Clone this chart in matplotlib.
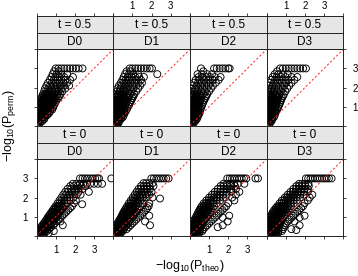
import matplotlib
matplotlib.use('Agg')
import matplotlib.pyplot as plt

plt.rcParams['font.family'] = ['Liberation Sans', 'DejaVu Sans']
plt.rcParams['mathtext.fontset'] = 'custom'
plt.rcParams['mathtext.rm'] = 'Liberation Sans'
plt.rcParams['mathtext.it'] = 'Liberation Sans:italic'
plt.rcParams['mathtext.bf'] = 'Liberation Sans:bold'

# ---------------- data ----------------
t_levels = ['t = 0.5', 't = 0']
d_levels = ['D0', 'D1', 'D2', 'D3']
tick_vals = [0, 1, 2, 3, 4]
tick_labels = ['', '1', '2', '3', '']
x_label = r'$-\mathrm{log}_{10}(\mathrm{P}_{\mathrm{theo}})$'
y_label = r'$-\mathrm{log}_{10}(\mathrm{P}_{\mathrm{perm}})$'

# each entry: (-log10 P_perm, [-log10 P_theo values at that level])
t05_D0 = [
    (0.05, [0.03, 0.1]),
    (0.15, [0.02, 0.1, 0.18]),
    (0.25, [0.02, 0.1, 0.2, 0.3]),
    (0.35, [0.03, 0.12, 0.22, 0.32, 0.4]),
    (0.45, [0.04, 0.14, 0.24, 0.34, 0.44]),
    (0.55, [0.05, 0.15, 0.25, 0.35, 0.45, 0.55]),
    (0.65, [0.06, 0.16, 0.26, 0.36, 0.46, 0.56, 0.65]),
    (0.75, [0.08, 0.18, 0.28, 0.38, 0.48, 0.58, 0.7]),
    (0.85, [0.1, 0.2, 0.3, 0.4, 0.5, 0.6, 0.72, 0.82]),
    (0.95, [0.12, 0.22, 0.32, 0.42, 0.52, 0.62, 0.74, 0.86]),
    (1.05, [0.14, 0.24, 0.34, 0.44, 0.54, 0.64, 0.76, 0.9]),
    (1.15, [0.17, 0.27, 0.37, 0.47, 0.57, 0.68, 0.8, 0.95]),
    (1.25, [0.2, 0.3, 0.4, 0.5, 0.6, 0.72, 0.85, 1.0]),
    (1.35, [0.23, 0.33, 0.43, 0.53, 0.63, 0.76, 0.9, 1.05]),
    (1.45, [0.26, 0.36, 0.46, 0.56, 0.68, 0.8, 0.95, 1.12]),
    (1.55, [0.3, 0.4, 0.5, 0.6, 0.72, 0.85, 1.0, 1.2]),
    (1.65, [0.34, 0.45, 0.56, 0.68, 0.8, 0.95, 1.1, 1.25]),
    (1.8, [0.4, 0.55, 0.7, 0.85, 1.0, 1.15, 1.35]),
    (1.95, [0.45, 0.62, 0.78, 0.95, 1.1, 1.3, 1.5]),
    (2.1, [0.52, 0.7, 0.88, 1.05, 1.25, 1.45, 1.7]),
    (2.25, [0.6, 0.8, 1.0, 1.2, 1.4, 1.6]),
    (2.4, [0.7, 0.9, 1.1, 1.3, 1.5, 1.75]),
    (2.55, [0.78, 0.98, 1.2, 1.45, 1.9]),
    (2.7, [0.85, 1.05, 1.3, 1.6]),
    (2.85, [0.92, 1.15]),
    (3.0, [1.0, 1.15, 1.3, 1.45, 1.6, 1.75, 1.9, 2.05, 2.2, 2.4]),
]
t05_D1 = [
    (0.05, [0.03, 0.12, 0.2]),
    (0.15, [0.02, 0.1, 0.2, 0.28]),
    (0.25, [0.02, 0.1, 0.2, 0.3]),
    (0.35, [0.03, 0.12, 0.22, 0.32, 0.4]),
    (0.45, [0.03, 0.12, 0.22, 0.32, 0.42, 0.5]),
    (0.55, [0.04, 0.14, 0.24, 0.34, 0.44, 0.55]),
    (0.65, [0.05, 0.15, 0.25, 0.35, 0.45, 0.58]),
    (0.75, [0.06, 0.16, 0.26, 0.36, 0.46, 0.56, 0.65]),
    (0.85, [0.07, 0.17, 0.27, 0.37, 0.47, 0.57, 0.7]),
    (0.95, [0.08, 0.18, 0.28, 0.38, 0.48, 0.6, 0.75]),
    (1.05, [0.09, 0.19, 0.29, 0.39, 0.5, 0.62, 0.8]),
    (1.15, [0.1, 0.2, 0.3, 0.4, 0.52, 0.65, 0.85]),
    (1.25, [0.11, 0.21, 0.31, 0.42, 0.54, 0.68, 0.9]),
    (1.35, [0.12, 0.22, 0.33, 0.44, 0.56, 0.72, 0.95]),
    (1.45, [0.13, 0.24, 0.35, 0.46, 0.6, 0.78, 1.0]),
    (1.55, [0.14, 0.26, 0.38, 0.5, 0.65, 0.82, 1.05]),
    (1.65, [0.16, 0.28, 0.4, 0.54, 0.7, 0.88, 1.1]),
    (1.8, [0.2, 0.33, 0.47, 0.62, 0.78, 0.95, 1.2]),
    (1.95, [0.22, 0.38, 0.54, 0.7, 0.88, 1.05, 1.3]),
    (2.1, [0.3, 0.45, 0.62, 0.8, 1.0, 1.2, 1.4]),
    (2.25, [0.4, 0.55, 0.72, 0.9, 1.1, 1.3, 1.5]),
    (2.4, [0.48, 0.65, 0.82, 1.0, 1.2, 1.45]),
    (2.55, [0.55, 0.75, 0.95, 1.15, 1.35, 1.6]),
    (2.7, [0.62, 0.82, 1.05, 1.3, 2.3]),
    (2.85, [0.7, 0.9]),
    (3.0, [0.86, 1.0, 1.15, 1.3, 1.45, 1.6, 1.75, 1.9, 2.02]),
]
t05_D2 = [
    (0.05, [0.03, 0.12]),
    (0.15, [0.02, 0.1, 0.2]),
    (0.25, [0.02, 0.1, 0.2, 0.28]),
    (0.35, [0.02, 0.1, 0.2, 0.3, 0.36]),
    (0.45, [0.02, 0.1, 0.2, 0.3, 0.4]),
    (0.55, [0.03, 0.12, 0.22, 0.32, 0.44]),
    (0.65, [0.03, 0.12, 0.22, 0.32, 0.42, 0.5]),
    (0.75, [0.03, 0.12, 0.22, 0.32, 0.42, 0.52]),
    (0.85, [0.04, 0.13, 0.23, 0.33, 0.43, 0.55]),
    (0.95, [0.04, 0.13, 0.23, 0.33, 0.44, 0.58]),
    (1.05, [0.04, 0.14, 0.24, 0.34, 0.46, 0.62]),
    (1.15, [0.05, 0.15, 0.25, 0.36, 0.48, 0.66]),
    (1.25, [0.05, 0.15, 0.26, 0.38, 0.5, 0.7]),
    (1.35, [0.05, 0.16, 0.27, 0.4, 0.54, 0.75]),
    (1.45, [0.06, 0.17, 0.29, 0.42, 0.58, 0.8]),
    (1.55, [0.06, 0.18, 0.31, 0.45, 0.62, 0.85]),
    (1.65, [0.07, 0.2, 0.34, 0.5, 0.68, 0.9]),
    (1.8, [0.08, 0.24, 0.4, 0.58, 0.78, 1.0]),
    (1.95, [0.1, 0.28, 0.46, 0.66, 0.88, 1.1]),
    (2.1, [0.15, 0.35, 0.55, 0.75, 0.98, 1.2]),
    (2.25, [0.22, 0.42, 0.62, 0.85, 1.08, 1.35]),
    (2.4, [0.3, 0.5, 0.72, 0.95, 1.2, 1.5]),
    (2.55, [0.45, 0.65, 0.85, 1.05, 1.3, 1.6]),
    (2.7, [0.4, 0.62, 0.9, 1.15]),
    (2.85, [0.7]),
    (3.0, [0.58, 1.26, 1.4, 1.55, 1.7, 1.85, 2.0, 2.07]),
]
t05_D3 = [
    (0.05, [0.03, 0.12]),
    (0.15, [0.02, 0.1, 0.18]),
    (0.25, [0.02, 0.1, 0.2, 0.26]),
    (0.35, [0.02, 0.1, 0.2, 0.3]),
    (0.45, [0.02, 0.1, 0.2, 0.3, 0.38]),
    (0.55, [0.02, 0.11, 0.21, 0.31, 0.42]),
    (0.65, [0.03, 0.12, 0.22, 0.32, 0.45]),
    (0.75, [0.03, 0.12, 0.22, 0.32, 0.42, 0.5]),
    (0.85, [0.03, 0.12, 0.22, 0.33, 0.45, 0.55]),
    (0.95, [0.04, 0.13, 0.23, 0.34, 0.46, 0.6]),
    (1.05, [0.04, 0.13, 0.24, 0.35, 0.48, 0.64]),
    (1.15, [0.04, 0.14, 0.25, 0.37, 0.5, 0.68]),
    (1.25, [0.05, 0.15, 0.26, 0.38, 0.52, 0.72]),
    (1.35, [0.05, 0.15, 0.27, 0.4, 0.55, 0.76]),
    (1.45, [0.05, 0.16, 0.28, 0.42, 0.58, 0.8]),
    (1.55, [0.06, 0.17, 0.3, 0.45, 0.62, 0.85]),
    (1.65, [0.06, 0.18, 0.32, 0.48, 0.66, 0.9]),
    (1.8, [0.08, 0.22, 0.37, 0.54, 0.74, 0.98]),
    (1.95, [0.1, 0.26, 0.43, 0.62, 0.84, 1.08]),
    (2.1, [0.14, 0.32, 0.5, 0.7, 0.92, 1.18]),
    (2.25, [0.18, 0.38, 0.58, 0.8, 1.02, 1.3]),
    (2.4, [0.24, 0.44, 0.66, 0.9, 1.14, 1.45]),
    (2.55, [0.32, 0.52, 0.75, 1.0, 1.3, 1.6]),
    (2.7, [0.42, 0.62, 0.85, 1.1]),
    (2.85, [0.55]),
    (3.0, [0.7, 0.85, 1.0, 1.15, 1.3, 1.45, 1.6, 1.75, 1.9, 2.05]),
]
t0_D0 = [
    (0.05, [0.02, 0.1, 0.2, 0.3]),
    (0.15, [0.03, 0.12, 0.22, 0.32, 0.42, 0.64]),
    (0.25, [0.06, 0.15, 0.25, 0.35, 0.45, 0.55, 0.9]),
    (0.35, [0.14, 0.23, 0.32, 0.42, 0.52, 0.65]),
    (0.45, [0.22, 0.31, 0.4, 0.5, 0.6, 0.75]),
    (0.55, [0.3, 0.39, 0.48, 0.58, 0.68, 0.88, 1.37]),
    (0.65, [0.38, 0.47, 0.56, 0.66, 0.78, 0.95]),
    (0.75, [0.45, 0.54, 0.63, 0.73, 0.85, 1.05, 1.25]),
    (0.85, [0.52, 0.61, 0.7, 0.8, 0.92, 1.15]),
    (0.95, [0.58, 0.67, 0.77, 0.87, 1.0, 1.25]),
    (1.05, [0.65, 0.74, 0.84, 0.95, 1.08, 1.35]),
    (1.15, [0.72, 0.81, 0.91, 1.02, 1.15, 1.45]),
    (1.25, [0.79, 0.88, 0.98, 1.09, 1.22, 1.55]),
    (1.35, [0.86, 0.95, 1.05, 1.16, 1.3, 1.65]),
    (1.45, [0.93, 1.02, 1.12, 1.23, 1.38, 1.75]),
    (1.55, [1.0, 1.1, 1.2, 1.31, 1.46, 1.85]),
    (1.65, [2.38]),
    (1.7, [1.1, 1.2, 1.32, 1.45, 1.6, 1.95]),
    (1.85, [1.2, 1.32, 1.45, 1.6, 1.78, 2.05]),
    (2.0, [1.3, 1.45, 1.6, 1.75, 1.92]),
    (2.15, [1.4, 1.55, 1.72, 1.9, 2.1, 2.3]),
    (2.3, [1.5, 1.66, 1.84, 2.02, 2.2, 2.73]),
    (2.45, [1.62, 1.8, 1.98, 2.18, 2.4]),
    (2.6, [1.76, 1.95, 2.15, 2.35, 2.55]),
    (2.72, [1.9, 2.08, 2.26, 2.44, 2.62, 2.8, 3.0, 3.2, 3.42]),
    (3.0, [2.27, 2.4, 2.53, 2.66, 2.8, 2.93, 3.06, 3.18, 3.26, 3.9]),
]
t0_D1 = [
    (0.05, [0.02, 0.1, 0.2, 0.3]),
    (0.15, [0.02, 0.1, 0.2, 0.3, 0.4]),
    (0.25, [0.02, 0.1, 0.2, 0.3, 0.4, 0.5]),
    (0.35, [0.04, 0.13, 0.22, 0.32, 0.42, 0.55, 0.7]),
    (0.45, [0.1, 0.19, 0.28, 0.38, 0.48, 0.6, 0.8]),
    (0.55, [0.16, 0.25, 0.34, 0.44, 0.54, 0.68, 0.9, 1.92]),
    (0.65, [0.22, 0.31, 0.4, 0.5, 0.61, 0.75, 1.0]),
    (0.75, [0.28, 0.37, 0.46, 0.56, 0.68, 0.82, 1.1, 1.66]),
    (0.85, [0.34, 0.43, 0.52, 0.62, 0.74, 0.9, 1.2]),
    (0.95, [0.4, 0.49, 0.58, 0.68, 0.8, 0.98, 1.3]),
    (1.05, [0.45, 0.54, 0.64, 0.74, 0.87, 1.05, 1.4, 1.88]),
    (1.15, [0.5, 0.6, 0.7, 0.8, 0.93, 1.12, 1.5]),
    (1.25, [0.55, 0.65, 0.75, 0.86, 1.0, 1.2, 1.6]),
    (1.35, [0.61, 0.71, 0.81, 0.92, 1.06, 1.27, 1.7]),
    (1.45, [0.67, 0.77, 0.87, 0.98, 1.12, 1.34, 1.78]),
    (1.55, [0.73, 0.83, 0.93, 1.04, 1.18, 1.4, 1.85]),
    (1.7, [0.82, 0.93, 1.04, 1.16, 1.3, 1.5, 1.88]),
    (1.85, [0.92, 1.04, 1.16, 1.28, 1.42, 1.6]),
    (1.95, [2.44]),
    (2.0, [1.02, 1.14, 1.26, 1.4, 1.55, 1.75, 2.05]),
    (2.15, [1.12, 1.25, 1.38, 1.52, 1.68, 1.88]),
    (2.3, [1.22, 1.35, 1.48, 1.62, 1.8, 2.0]),
    (2.45, [1.32, 1.46, 1.6, 1.75, 1.92]),
    (2.6, [1.45, 1.6, 1.75, 1.9, 2.1]),
    (2.75, [1.58, 1.72, 1.88, 2.05]),
    (3.0, [1.99, 2.12, 2.25, 2.38, 2.5, 2.63, 2.76, 2.89]),
]
t0_D2 = [
    (0.05, [0.02, 0.1, 0.2, 0.3, 0.4]),
    (0.15, [0.02, 0.1, 0.2, 0.3, 0.4, 0.5]),
    (0.25, [0.02, 0.1, 0.2, 0.3, 0.4, 0.52, 0.65]),
    (0.35, [0.02, 0.1, 0.2, 0.3, 0.4, 0.52, 0.7]),
    (0.45, [0.03, 0.12, 0.22, 0.32, 0.42, 0.55, 0.8, 1.45]),
    (0.55, [0.06, 0.15, 0.25, 0.35, 0.46, 0.6, 0.9, 1.71]),
    (0.65, [0.12, 0.21, 0.3, 0.4, 0.51, 0.66, 1.0]),
    (0.75, [0.18, 0.27, 0.36, 0.46, 0.57, 0.72, 1.1, 1.97]),
    (0.85, [0.24, 0.33, 0.42, 0.52, 0.63, 0.78, 1.2]),
    (0.95, [0.3, 0.39, 0.48, 0.58, 0.7, 0.85, 1.3, 1.71]),
    (1.05, [0.35, 0.44, 0.54, 0.64, 0.76, 0.92, 1.4, 2.05]),
    (1.15, [0.4, 0.5, 0.6, 0.7, 0.82, 0.98, 1.5]),
    (1.25, [0.45, 0.55, 0.65, 0.76, 0.88, 1.05, 1.6]),
    (1.35, [0.5, 0.6, 0.7, 0.82, 0.95, 1.12, 1.7]),
    (1.45, [0.56, 0.66, 0.76, 0.88, 1.01, 1.19, 1.8]),
    (1.55, [0.62, 0.72, 0.82, 0.94, 1.07, 1.26, 1.9]),
    (1.7, [0.72, 0.83, 0.94, 1.06, 1.2, 1.4, 2.0]),
    (1.85, [0.86, 0.98, 1.1, 1.23, 1.38, 1.58, 2.32]),
    (2.0, [1.0, 1.12, 1.25, 1.38, 1.54, 1.75, 2.2]),
    (2.15, [1.15, 1.28, 1.42, 1.56, 1.72, 1.92, 2.4]),
    (2.3, [1.3, 1.44, 1.58, 1.74, 1.92, 2.15, 2.58]),
    (2.45, [1.45, 1.6, 1.76, 1.94, 2.15, 2.4]),
    (2.6, [1.6, 1.76, 1.94, 2.14, 2.35]),
    (2.72, [1.75, 1.92, 2.1, 2.3, 2.5, 2.84]),
    (3.0, [1.95, 2.08, 2.2, 2.33, 2.46, 2.58, 2.7, 2.82, 2.94, 3.42, 3.55]),
]
t0_D3 = [
    (0.05, [0.02, 0.1, 0.2, 0.3, 0.4, 0.5]),
    (0.15, [0.02, 0.1, 0.2, 0.3, 0.4, 0.5, 0.6]),
    (0.25, [0.02, 0.1, 0.2, 0.3, 0.4, 0.5, 0.62, 0.8]),
    (0.3, [1.55]),
    (0.35, [0.02, 0.1, 0.2, 0.3, 0.4, 0.5, 0.62, 0.85, 1.29]),
    (0.45, [0.02, 0.1, 0.2, 0.3, 0.4, 0.5, 0.62, 0.9]),
    (0.55, [0.03, 0.12, 0.22, 0.32, 0.42, 0.53, 0.66, 0.95, 1.72]),
    (0.65, [0.05, 0.14, 0.24, 0.34, 0.44, 0.56, 0.7, 1.0]),
    (0.75, [0.08, 0.17, 0.27, 0.37, 0.47, 0.6, 0.75, 1.1, 1.46]),
    (0.85, [0.13, 0.22, 0.32, 0.42, 0.52, 0.65, 0.8, 1.2]),
    (0.95, [0.18, 0.27, 0.37, 0.47, 0.57, 0.7, 0.86, 1.3, 1.72]),
    (1.05, [0.23, 0.32, 0.42, 0.52, 0.63, 0.76, 0.92, 1.4, 1.98]),
    (1.15, [0.28, 0.37, 0.47, 0.57, 0.68, 0.82, 0.98, 1.5]),
    (1.25, [0.33, 0.42, 0.52, 0.62, 0.74, 0.88, 1.05, 1.6]),
    (1.35, [0.4, 0.5, 0.6, 0.7, 0.82, 0.96, 1.12, 1.7]),
    (1.45, [0.48, 0.58, 0.68, 0.78, 0.9, 1.04, 1.2, 1.8]),
    (1.55, [0.56, 0.66, 0.76, 0.86, 0.98, 1.12, 1.28, 1.9]),
    (1.7, [0.68, 0.78, 0.88, 0.99, 1.1, 1.25, 1.42, 1.98]),
    (1.85, [0.8, 0.91, 1.02, 1.13, 1.25, 1.4, 1.58, 2.15]),
    (2.0, [0.95, 1.06, 1.17, 1.28, 1.4, 1.55, 1.75, 2.25]),
    (2.15, [1.1, 1.22, 1.34, 1.46, 1.6, 1.75, 1.95, 2.38]),
    (2.3, [1.25, 1.37, 1.5, 1.63, 1.78, 1.95, 2.15]),
    (2.45, [1.4, 1.53, 1.67, 1.82, 1.98, 2.15]),
    (2.6, [1.55, 1.7, 1.86, 2.02, 2.2]),
    (2.72, [1.7, 1.85, 2.0, 2.18]),
    (3.0, [2.05, 2.17, 2.29, 2.41, 2.53, 2.65, 2.77, 2.89, 3.01, 3.13, 3.25, 3.39]),
]

panels = [[t05_D0, t05_D1, t05_D2, t05_D3],
          [t0_D0, t0_D1, t0_D2, t0_D3]]

# ---------------- layout (pixels) ----------------
W, H = 358, 276
col_left = 36.5
pw = 76.7
ph = 76.5
sh = 16.5
plot_tops = [49.3, 159.3]
lim = (0, 4)
strip_bg = '#e6e6e6'
frame_col = '#222222'

fig = plt.figure(figsize=(W / 100, H / 100), dpi=100)


def frac(x0, y0, w, h):
    return [x0 / W, 1 - (y0 + h) / H, w / W, h / H]


def style_frame(ax):
    for sp in ax.spines.values():
        sp.set_color(frame_col)
        sp.set_linewidth(0.7)


for r in range(2):
    for c in range(4):
        left = col_left + c * pw
        top = plot_tops[r]
        ax = fig.add_axes(frac(left, top, pw, ph))
        rows = panels[r][c]
        xs = [x for yv, xl in rows for x in xl]
        ys = [yv for yv, xl in rows for _ in xl]
        ax.scatter(xs, ys, s=25, facecolors='none', edgecolors='black',
                   linewidths=0.65, zorder=2)
        ax.axline((0, 0), slope=1, color='#ff2020', lw=0.7, dashes=(2.2, 2.2),
                  zorder=3)
        ax.set_xlim(*lim)
        ax.set_ylim(*lim)
        ax.set_xticks(tick_vals)
        ax.set_yticks(tick_vals)
        ax.set_xticklabels(tick_labels)
        ax.set_yticklabels(tick_labels)
        ax.tick_params(direction='out', length=2.4, width=0.6, labelsize=7,
                       color=frame_col, pad=4,
                       bottom=(r == 1), labelbottom=(r == 1 and c in (0, 2)),
                       top=False, labeltop=False,
                       left=(c == 0), labelleft=(r == 1 and c == 0),
                       right=(c == 3), labelright=(r == 0 and c == 3))
        style_frame(ax)

        # strips: outer (t) then inner (D)
        for k, label in enumerate([t_levels[r], d_levels[c]]):
            sa = fig.add_axes(frac(left, top - (2 - k) * sh, pw, sh))
            sa.set_facecolor(strip_bg)
            sa.set_xlim(*lim)
            sa.set_yticks([])
            sa.text(0.5, 0.47, label, transform=sa.transAxes, ha='center',
                    va='center', fontsize=8.5)
            style_frame(sa)
            if r == 0 and k == 0:
                sa.set_xticks(tick_vals)
                sa.set_xticklabels(tick_labels)
                sa.tick_params(direction='out', length=2.4, width=0.6,
                               labelsize=7, color=frame_col, pad=1.2,
                               top=True, labeltop=(c in (1, 3)),
                               bottom=False, labelbottom=False)
            else:
                sa.set_xticks([])

fig.text(10 / W, 1 - 126 / H, y_label, rotation=90, ha='center', va='center',
         fontsize=9)
fig.text(190 / W, 1 - 266 / H, x_label, ha='center', va='center', fontsize=9)

fig.savefig('out.png', dpi=100)
